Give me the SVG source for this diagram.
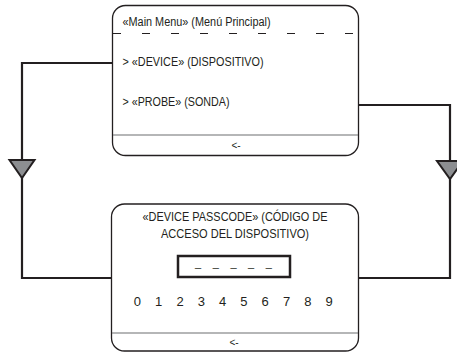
<svg xmlns="http://www.w3.org/2000/svg" width="457" height="352" viewBox="0 0 457 352">
<style>
.box{fill:#fff;stroke:#231f20;stroke-width:1.3}
.sep{stroke:#6d6e71;stroke-width:1.2}
.t{font-family:"Liberation Sans",Arial,sans-serif;font-size:12px;fill:#231f20}
.c{text-anchor:middle}
.conn{fill:none;stroke:#231f20;stroke-width:2.2}
.arr{fill:#8c8e91;stroke:#231f20;stroke-width:2;stroke-linejoin:miter}
</style>
<g id="connectors">
<path class="conn" d="M112.5,63 H22 V278 H111.5"/>
<polygon class="arr" points="9.5,160 34.5,160 22,178"/>
<path class="conn" d="M358.5,105 H450 V278 H358.5"/>
<polygon class="arr" points="437,161 463,161 450,179"/>
</g>
<g id="main-menu">
<rect class="box" x="112.5" y="5.5" width="246" height="150" rx="13"/>
<line x1="113" y1="33.5" x2="358" y2="33.5" stroke="#231f20" stroke-width="1.2" stroke-dasharray="8 21"/>
<line class="sep" x1="113" y1="135" x2="358" y2="135"/>
<text class="t" x="122.5" y="26" textLength="148" lengthAdjust="spacingAndGlyphs">«Main Menu» (Menú Principal)</text>
<text class="t" x="122.5" y="66" textLength="141" lengthAdjust="spacingAndGlyphs">&gt; «DEVICE» (DISPOSITIVO)</text>
<text class="t" x="122.5" y="106" textLength="107" lengthAdjust="spacingAndGlyphs">&gt; «PROBE» (SONDA)</text>
<text class="t c" x="236" y="149" style="font-size:10px">&lt;-</text>
</g>
<g id="device-passcode">
<rect class="box" x="111.5" y="204" width="247" height="147" rx="13"/>
<line class="sep" x1="112" y1="333" x2="358" y2="333"/>
<text class="t c" x="235" y="221" textLength="185" lengthAdjust="spacingAndGlyphs">«DEVICE PASSCODE» (CÓDIGO DE</text>
<text class="t c" x="235" y="238" textLength="148" lengthAdjust="spacingAndGlyphs">ACCESO DEL DISPOSITIVO)</text>
<rect x="178" y="256" width="112" height="21" fill="#fff" stroke="#231f20" stroke-width="2.5"/>
<text class="t" x="195 212.7 230.4 248.1 265.8" y="267" style="font-size:11px">_____</text>
<text class="t c" x="137.3 158.7 180 201.3 222.6 243.9 265.2 286.5 307.8 329.1" y="306" style="font-size:13px">0123456789</text>
<text class="t c" x="234" y="346" style="font-size:10px">&lt;-</text>
</g>
</svg>
